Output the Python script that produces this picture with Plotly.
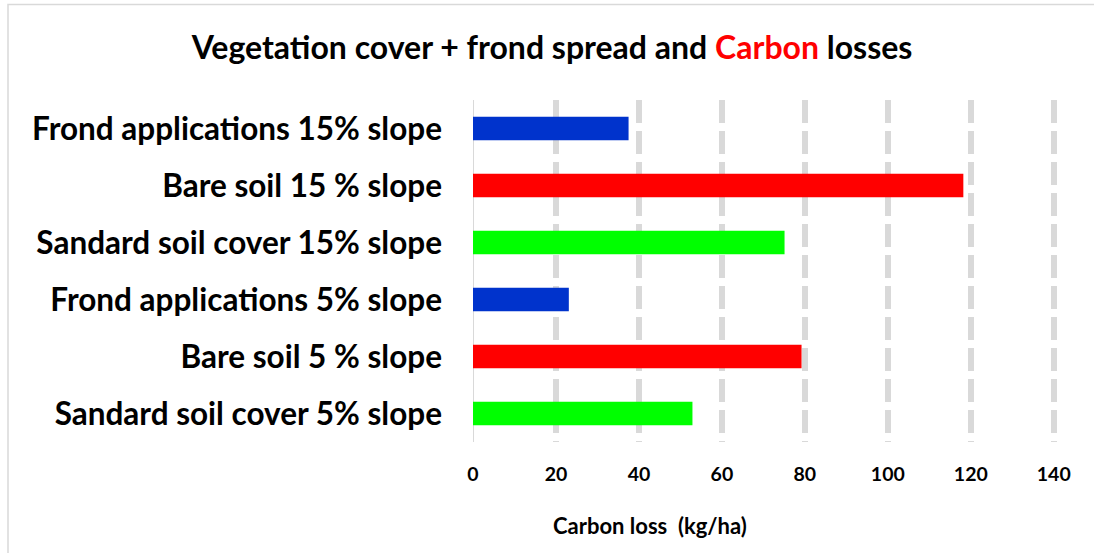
import plotly.graph_objects as go

# Treatments, listed top to bottom
categories = [
    "Frond applications 15% slope",
    "Bare soil 15 % slope",
    "Sandard soil cover 15% slope",
    "Frond applications 5% slope",
    "Bare soil 5 % slope",
    "Sandard soil cover 5% slope",
]
carbon_loss = [37.5, 118.2, 75.1, 23.1, 79.2, 52.9]  # kg/ha
bar_colors = ["#0033CC", "#FF0000", "#00FF00", "#0033CC", "#FF0000", "#00FF00"]
x_ticks = [0, 20, 40, 60, 80, 100, 120, 140]

FONT = "Lato"

fig = go.Figure(
    go.Bar(
        x=carbon_loss,
        y=categories,
        orientation="h",
        marker=dict(color=bar_colors, line=dict(width=0)),
        showlegend=False,
    )
)

plot_w = 1094 - 473 - 34  # pixel width of the plotting area

fig.update_layout(
    width=1094,
    height=553,
    margin=dict(l=473, r=34, t=100, b=111),
    paper_bgcolor="white",
    plot_bgcolor="white",
    bargap=0.59,
    title=dict(
        text="Vegetation cover + frond spread and <span style='color:#FF0000'>Carbon</span> losses",
        x=552 / 1094,
        xanchor="center",
        y=0.913,
        yanchor="middle",
        font=dict(family=FONT, size=32, color="black", weight="bold"),
    ),
    xaxis=dict(
        range=[0, 141.5],
        tickvals=x_ticks,
        ticktext=[str(v) for v in x_ticks],
        showgrid=True,
        gridcolor="#D9D9D9",
        gridwidth=6,
        griddash="23px,8px",
        zeroline=True,
        zerolinecolor="#D9D9D9",
        zerolinewidth=1,
        showline=False,
        ticks="",
        tickfont=dict(family=FONT, size=19.5, color="black", weight="bold"),
        ticklabelstandoff=18,
    ),
    yaxis=dict(
        autorange="reversed",
        showgrid=False,
        zeroline=False,
        showline=False,
        ticks="",
        tickfont=dict(family=FONT, size=31.5, color="black", weight="bold"),
        ticklabelstandoff=30,
    ),
    annotations=[
        dict(
            text="Carbon loss  (kg/ha)",
            xref="paper",
            yref="paper",
            x=(650 - 473) / plot_w,
            y=-0.243,
            xanchor="center",
            yanchor="middle",
            showarrow=False,
            font=dict(family=FONT, size=22, color="black", weight="bold"),
        )
    ],
    shapes=[
        # light frame around the chart area
        dict(
            type="rect",
            xref="paper",
            yref="paper",
            x0=(8 - 473) / plot_w,
            x1=1.3,
            y0=-0.5,
            y1=1.279,
            line=dict(color="#D9D9D9", width=1.5),
            fillcolor="rgba(0,0,0,0)",
            layer="below",
        )
    ],
)

fig.write_html("out.html")
